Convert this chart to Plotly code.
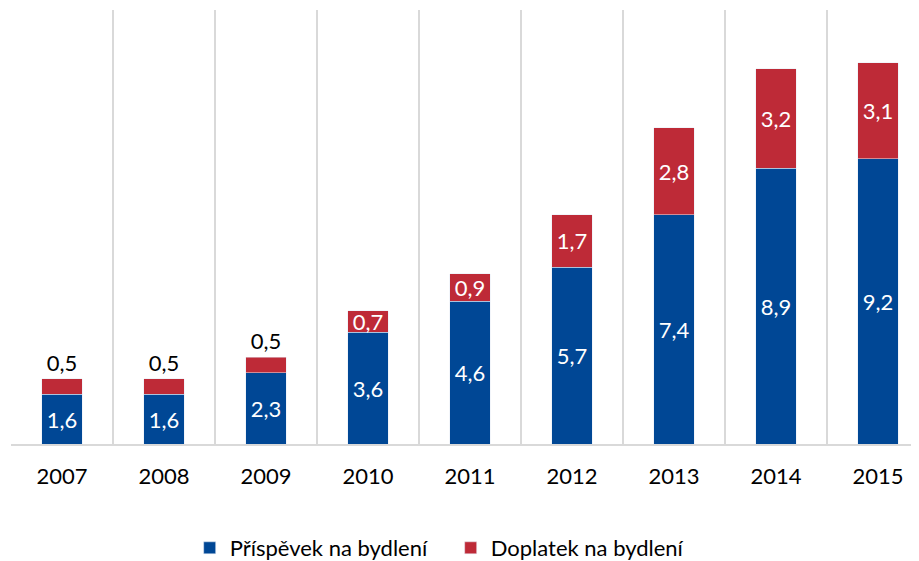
import plotly.graph_objects as go

years = ["2007", "2008", "2009", "2010", "2011", "2012", "2013", "2014", "2015"]
prispevek = [1.6, 1.6, 2.3, 3.6, 4.6, 5.7, 7.4, 8.9, 9.2]
doplatek = [0.5, 0.5, 0.5, 0.7, 0.9, 1.7, 2.8, 3.2, 3.1]

BLUE = "#004795"
RED = "#BE2A37"
GRID = "#d9d9d9"
FONT = "Lato"
SIZE = 22

x = list(range(len(years)))
red_pos = ["outside" if v < 0.6 else "inside" for v in doplatek]
red_col = ["#000000" if p == "outside" else "#ffffff" for p in red_pos]

fig = go.Figure()
fig.add_bar(x=x, y=prispevek, name="Příspěvek na bydlení", marker_color=BLUE,
            width=0.4, texttemplate="%{y:.1f}", textposition="inside",
            insidetextanchor="middle", textfont=dict(color="white", size=SIZE, family=FONT))
fig.add_bar(x=x, y=doplatek, name="Doplatek na bydlení", marker_color=RED,
            width=0.4, texttemplate="%{y:.1f}", textposition=red_pos,
            insidetextanchor="middle", textfont=dict(color=red_col, size=SIZE, family=FONT),
            cliponaxis=False)
# invisible trace to carry the category gridlines axis
fig.add_scatter(x=[-0.5], y=[0], xaxis="x2", showlegend=False, mode="markers",
                marker=dict(opacity=0), hoverinfo="skip")

xr = [-0.5, 8.48]
fig.update_layout(
    width=919, height=561,
    barmode="stack",
    separators=", ",
    plot_bgcolor="white", paper_bgcolor="white",
    margin=dict(l=3, r=0, t=2, b=125),
    font=dict(family=FONT, size=SIZE, color="#000000"),
    uniformtext=dict(minsize=SIZE, mode="show"),
    xaxis=dict(range=xr, tickvals=x, ticktext=years, showgrid=False,
               showline=True, linecolor=GRID, linewidth=1.5, ticks="",
               ticklabelstandoff=12, zeroline=False),
    xaxis2=dict(range=xr, overlaying="x", tick0=-0.5, dtick=1, showgrid=True,
                gridcolor=GRID, gridwidth=1.5, showticklabels=False, zeroline=False),
    yaxis=dict(range=[0, 14], visible=False),
    legend=dict(orientation="h", x=0.48, xanchor="center", y=-0.24, yanchor="middle",
                font=dict(size=SIZE, family=FONT), traceorder="normal",
                itemwidth=30, entrywidth=216, entrywidthmode="pixels"),
    showlegend=True,
)

fig.write_html("out.html")
